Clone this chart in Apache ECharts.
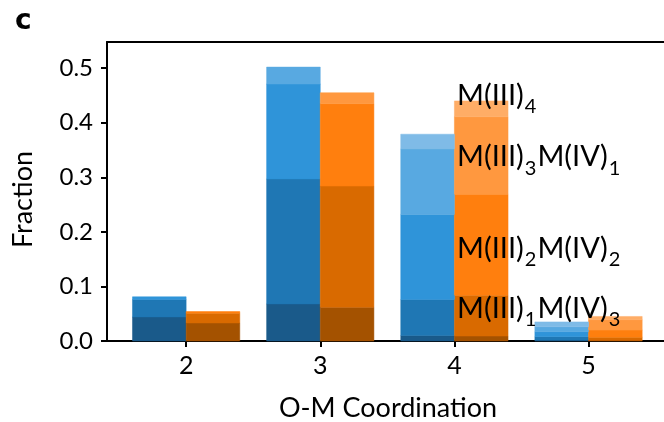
<!DOCTYPE html>
<html>
<head>
<meta charset="utf-8">
<script src="https://cdn.jsdelivr.net/npm/echarts@6/dist/echarts.min.js"></script>
<style>
  html, body { margin: 0; padding: 0; background: #fff; }
  #chart { width: 664px; height: 422px; }
</style>
</head>
<body>
<div id="chart"></div>
<script>
// O-M coordination numbers on the x axis
const coordinations = [2, 3, 4, 5];

// Blue set: fractions per composition, bottom layer first
const blueIV4     = [0.044, 0.068, 0.010, 0.002];
const blueIII1IV3 = [0.032, 0.229, 0.066, 0.006];
const blueIII2IV2 = [0.005, 0.174, 0.156, 0.009];
const blueIII3IV1 = [0.000, 0.031, 0.120, 0.009];
const blueIII4    = [0.000, 0.000, 0.027, 0.009];

// Orange set: fractions per composition, bottom layer first
const orangeIV4     = [0.033, 0.062, 0.009, 0.001];
const orangeIII1IV3 = [0.018, 0.222, 0.075, 0.006];
const orangeIII2IV2 = [0.003, 0.151, 0.185, 0.013];
const orangeIII3IV1 = [0.000, 0.020, 0.142, 0.019];
const orangeIII4    = [0.000, 0.000, 0.029, 0.006];

// Axis ticks
const yTicks = [0.0, 0.1, 0.2, 0.3, 0.4, 0.5];
const xTicks = [2, 3, 4, 5];

// Composition annotations (rich text) and their anchor values
const annotationTexts = [
  'M(III){s|1}M(IV){s|3}',
  'M(III){s|2}M(IV){s|2}',
  'M(III){s|3}M(IV){s|1}',
  'M(III){s|4}'
];
const annotationX = 4.02;
const annotationY = [0.059, 0.170, 0.337, 0.449];

const blueLayers = [blueIV4, blueIII1IV3, blueIII2IV2, blueIII3IV1, blueIII4];
const orangeLayers = [orangeIV4, orangeIII1IV3, orangeIII2IV2, orangeIII3IV1, orangeIII4];
const blueColors = ['#1a5a8a', '#1f77b4', '#2f94d9', '#58a9e1', '#7fbbe7'];
const orangeColors = ['#a45200', '#d96a00', '#ff7f0e', '#ff983f', '#ffad66'];

const BAR_W = 0.4;
const FONT = 'Lato, "Open Sans", sans-serif';

function stackSeries(layers, colors, offset) {
  const out = [];
  const base = coordinations.map(() => 0);
  layers.forEach((vals, li) => {
    const data = coordinations.map((c, i) => [c, base[i], base[i] + vals[i]]);
    vals.forEach((v, i) => { base[i] += v; });
    out.push({
      type: 'custom',
      coordinateSystem: 'cartesian2d',
      data: data,
      encode: { x: 0, y: [1, 2] },
      z: 2 + li * 0.01,
      renderItem: function (params, api) {
        const x = api.value(0) + offset;
        const p0 = api.coord([x - BAR_W / 2, api.value(1)]);
        const p1 = api.coord([x + BAR_W / 2, api.value(2)]);
        const h = p0[1] - p1[1];
        if (h <= 0) return null;
        return {
          type: 'rect',
          shape: { x: p0[0], y: p1[1], width: p1[0] - p0[0], height: h },
          style: { fill: colors[li], stroke: colors[li], lineWidth: 0.5 }
        };
      }
    });
  });
  return out;
}

const chart = echarts.init(document.getElementById('chart'), null, { renderer: 'canvas' });

const axisLineStyle = { color: '#000', width: 2 };

const option = {
  animation: false,
  backgroundColor: '#ffffff',
  grid: { left: 107, top: 42, right: -5, bottom: 81, show: false, outerBoundsMode: 'none', containLabel: false },
  xAxis: [
    {
      type: 'value',
      min: 1.41, max: 5.6,
      name: 'O-M Coordination',
      nameLocation: 'middle',
      nameGap: 54,
      nameTextStyle: { fontFamily: FONT, fontSize: 27, color: '#000' },
      axisLine: { show: true, onZero: false, lineStyle: axisLineStyle },
      axisTick: { show: true, length: 6, lineStyle: axisLineStyle, customValues: xTicks },
      axisLabel: { fontFamily: FONT, fontSize: 25, color: '#000', margin: 12, customValues: xTicks },
      splitLine: { show: false }
    },
    {
      // top frame line
      type: 'value',
      position: 'top',
      min: 1.41, max: 5.6,
      axisLine: { show: true, onZero: false, lineStyle: axisLineStyle },
      axisTick: { show: false },
      axisLabel: { show: false },
      splitLine: { show: false }
    }
  ],
  yAxis: {
    type: 'value',
    min: 0, max: 0.548,
    name: 'Fraction',
    nameLocation: 'middle',
    nameGap: 70,
    nameTextStyle: { fontFamily: FONT, fontSize: 27, color: '#000', padding: [0, 16, 0, 0] },
    axisLine: { show: true, lineStyle: axisLineStyle },
    axisTick: { show: true, length: 6, lineStyle: axisLineStyle, customValues: yTicks },
    axisLabel: {
      fontFamily: FONT, fontSize: 24, color: '#000', margin: 14,
      customValues: yTicks,
      formatter: v => v.toFixed(1)
    },
    splitLine: { show: false }
  },
  series: [].concat(
    stackSeries(blueLayers, blueColors, -BAR_W / 2),
    stackSeries(orangeLayers, orangeColors, BAR_W / 2)
  ),
  graphic: [
    {
      type: 'text', left: 15, top: 8, z: 10,
      style: { text: 'c', font: 'bold 28px "DejaVu Sans", sans-serif', fill: '#000' }
    }
  ]
};

chart.setOption(option);

// Composition labels anchored in data space beside the coordination-4 bars
const labelGraphics = annotationTexts.map((t, i) => {
  const p = chart.convertToPixel({ xAxisIndex: 0, yAxisIndex: 0 }, [annotationX, annotationY[i]]);
  return {
    type: 'text', x: p[0], y: p[1], z: 20,
    style: {
      text: t,
      fontFamily: FONT, fontSize: 29, fill: '#000',
      verticalAlign: 'middle', align: 'left',
      rich: {
        s: { fontFamily: FONT, fontSize: 20, fill: '#000', padding: [22, 1, 0, 1] }
      }
    }
  };
});
chart.setOption({ graphic: option.graphic.concat(labelGraphics) });
</script>
</body>
</html>
